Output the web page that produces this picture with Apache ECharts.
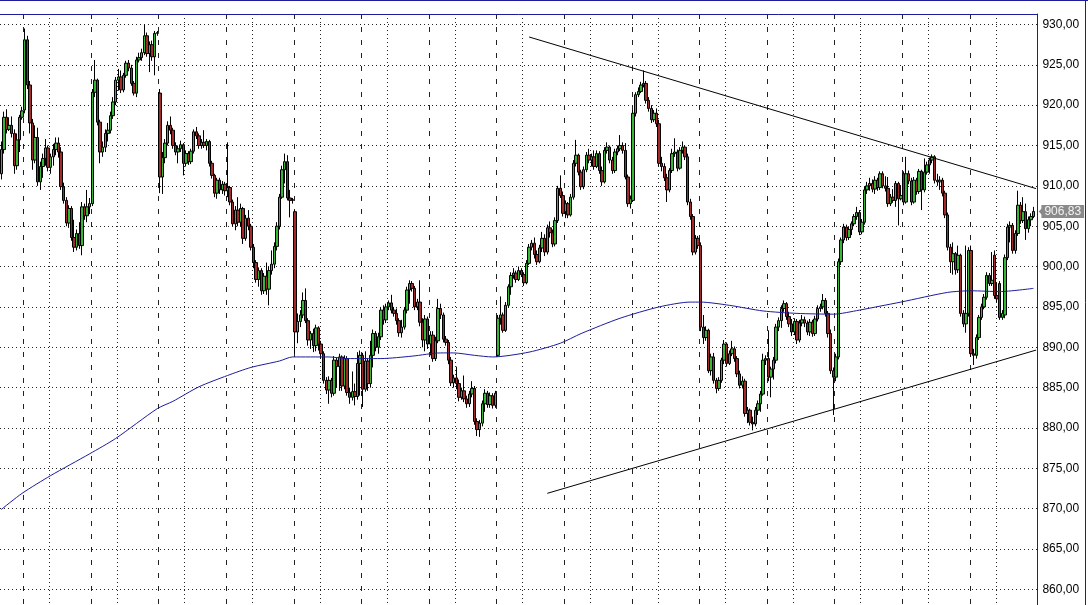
<!DOCTYPE html>
<html>
<head>
<meta charset="utf-8">
<script src="https://cdn.jsdelivr.net/npm/echarts@6/dist/echarts.min.js"></script>
<style>
html,body{margin:0;padding:0;background:#fff;}
#chart{width:1088px;height:605px;}
</style>
</head>
<body>
<div id="chart"></div>
<script>
// Each candle: [open, close, low, high]; 15-minute bars, 26 per session
const day00 = [
[911.5,914.5,910.8,915.5],[914.5,918.5,914.0,919.2],[918.5,917.0,916.5,919.5],[917.0,917.5,916.8,918.5],
[917.5,916.5,916.0,918.6],[916.5,912.5,911.5,917.0],[912.5,915.7,912.0,916.5],[915.7,918.5,914.2,918.8],
[918.5,919.3,918.2,919.8]];
const day01 = [
[919.4,928.1,919.0,929.5],[928.1,922.5,922.0,928.6],[922.5,917.8,916.5,923.0],[917.8,913.2,912.0,918.3],
[913.2,916.0,912.8,917.5],[916.0,910.5,910.0,917.2],[910.5,912.4,909.5,913.0],[912.4,913.4,911.0,914.0],
[913.4,914.7,912.5,915.8],[914.7,912.3,911.8,915.0],[912.3,913.6,911.5,914.0],[913.6,914.5,912.5,915.2],
[914.5,915.3,913.8,916.0],[915.3,914.2,913.5,916.0],[914.2,909.9,909.5,914.8],[909.9,908.2,907.8,910.4],
[908.2,905.4,905.0,908.6],[905.4,907.2,904.8,907.6],[907.2,903.6,903.2,907.5],[903.6,902.4,901.8,905.8],
[902.4,904.1,902.0,904.6],[904.1,902.6,902.2,905.5],[902.6,907.4,901.4,908.0],[907.4,906.3,905.8,907.8],
[906.3,907.4,905.5,909.5],[907.4,907.8,906.5,908.5]];
const day02 = [
[907.8,921.6,907.5,922.0],[921.6,923.1,921.0,925.6],[923.1,917.9,917.5,923.3],[917.9,914.2,912.8,918.2],
[914.2,914.8,913.6,915.5],[914.8,916.5,914.2,917.0],[916.5,916.9,915.5,917.8],[916.9,918.7,916.5,919.2],
[918.7,920.4,918.3,921.0],[920.4,923.1,920.0,923.5],[923.1,923.5,921.8,924.5],[923.5,921.9,921.5,924.3],
[921.9,923.7,921.6,924.0],[923.7,925.2,923.4,925.5],[925.2,924.6,924.2,925.6],[924.6,922.7,922.4,925.0],
[922.7,921.5,921.2,923.0],[921.5,925.6,921.0,926.0],[925.6,925.9,925.3,926.5],[925.9,926.5,925.5,927.0],
[926.5,928.6,926.2,930.0],[928.6,926.4,926.0,929.0],[926.4,927.5,924.1,927.9],[927.5,926.0,925.5,928.0],
[926.0,928.9,923.7,929.2],[928.9,929.0,928.6,929.2]];
const day03 = [
[921.5,911.1,909.1,922.0],[911.1,913.5,909.0,914.2],[913.5,915.3,912.8,915.8],[915.3,917.5,915.0,918.0],
[917.5,916.9,916.4,918.6],[916.9,915.0,914.6,917.2],[915.0,914.2,913.8,915.4],[914.2,914.6,912.8,915.0],
[914.6,915.1,914.2,915.6],[915.1,912.8,911.3,915.3],[912.8,914.0,912.4,914.4],[914.0,913.0,912.6,914.3],
[913.0,914.3,912.7,914.6],[914.3,916.7,914.0,917.0],[916.7,916.2,915.8,917.3],[916.2,915.0,914.6,916.5],
[915.0,915.4,914.6,915.8],[915.4,915.0,914.7,916.9],[915.0,915.5,914.4,915.8],[915.5,912.8,912.4,915.7],
[912.8,911.3,910.9,913.1],[911.3,909.1,908.6,911.5],[909.1,910.7,908.4,911.0],[910.7,909.5,909.0,911.0],
[909.5,910.2,909.0,910.6],[910.2,909.4,908.8,910.5]];
const day04 = [
[909.4,909.8,908.6,915.4],[909.8,908.0,907.6,910.0],[908.0,905.3,905.0,908.3],[905.3,907.0,904.5,907.5],
[907.0,905.5,905.0,908.6],[905.5,907.2,905.0,907.8],[907.2,903.5,902.8,907.4],[903.5,906.0,903.2,906.4],
[906.0,905.0,904.5,907.0],[905.0,902.4,902.0,905.3],[902.4,900.5,899.8,902.8],[900.5,898.4,898.0,900.8],
[898.4,899.5,897.5,899.9],[899.5,897.0,896.5,899.8],[897.0,898.8,896.6,899.2],[898.8,897.2,896.5,900.5],
[897.2,899.5,895.2,900.0],[899.5,900.3,899.0,902.0],[900.3,902.5,899.8,903.0],[902.5,905.0,902.0,905.5],
[905.0,908.6,904.6,909.0],[908.6,912.0,908.4,912.5],[912.0,913.0,910.3,914.0],[913.0,908.5,908.2,913.8],
[908.5,908.2,906.1,909.5],[908.2,908.3,907.8,908.5]];
const day05 = [
[906.8,891.9,889.2,907.0],[891.9,893.2,890.5,894.2],[893.2,894.0,892.5,894.6],[894.0,895.8,893.6,896.8],
[895.8,893.3,893.0,897.3],[893.3,890.9,890.2,893.6],[890.9,891.7,889.8,892.0],[891.7,890.2,889.4,892.3],
[890.2,892.4,889.5,892.8],[892.4,890.4,889.6,892.6],[890.4,889.2,888.6,890.8],[889.2,885.9,885.5,889.5],
[885.9,884.7,884.2,886.3],[884.7,885.9,883.0,886.4],[885.9,884.3,883.8,886.2],[884.3,888.4,884.0,888.9],
[888.4,887.6,885.0,888.7],[887.6,888.8,884.6,889.2],[888.8,885.2,884.6,889.0],[885.2,888.6,884.8,889.0],
[888.6,884.4,884.0,888.9],[884.4,883.8,883.0,885.0],[883.8,884.5,883.4,887.0],[884.5,883.9,882.8,885.5],
[883.9,888.0,883.5,889.4],[888.0,889.0,884.0,889.6]];
const day06 = [
[889.0,884.8,882.6,889.3],[884.8,888.3,884.5,889.5],[888.3,885.5,884.6,888.6],[885.5,889.0,885.0,890.8],
[889.0,891.7,887.5,892.2],[891.7,890.0,889.5,892.0],[890.0,891.3,889.2,891.8],[891.3,894.6,890.9,895.0],
[894.6,893.4,892.8,895.2],[893.4,895.0,893.0,895.4],[895.0,895.5,894.6,895.8],[895.5,894.6,894.2,896.5],
[894.6,894.2,893.8,895.0],[894.2,893.3,892.8,894.8],[893.3,891.8,891.3,893.6],[891.8,892.5,891.2,893.4],
[892.5,894.6,892.2,895.0],[894.6,897.1,894.2,897.5],[897.1,897.9,895.4,898.3],[897.9,897.3,896.9,898.2],
[897.3,895.0,894.6,897.6],[895.0,895.6,894.6,896.0],[895.6,893.1,892.6,898.3],[893.1,890.9,890.0,893.6],
[890.9,893.5,889.5,894.0],[893.5,890.4,889.8,893.8]];
const day07 = [
[890.4,891.5,889.0,892.0],[891.5,888.6,888.2,892.0],[888.6,890.8,888.3,891.3],[890.8,894.8,890.5,896.0],
[894.8,894.0,893.5,895.4],[894.0,891.0,890.6,894.3],[891.0,890.6,890.2,891.4],[890.6,888.4,887.9,890.9],
[888.4,885.6,885.2,888.8],[885.6,886.2,885.0,886.6],[886.2,885.5,884.8,887.6],[885.5,883.8,883.3,886.0],
[883.8,884.6,883.5,885.0],[884.6,883.6,883.2,886.5],[883.6,883.0,882.5,884.0],[883.0,884.2,882.6,884.6],
[884.2,884.9,883.8,885.8],[884.9,880.8,880.4,885.2],[880.8,879.8,879.0,881.2],[879.8,880.6,878.9,881.0],
[880.6,883.0,880.2,883.4],[883.0,884.3,882.0,884.8],[884.3,882.9,882.5,884.6],[882.9,884.0,882.5,884.4],
[884.0,882.8,882.4,884.3],[882.8,884.3,882.5,884.6]];
const day08 = [
[889.0,893.6,888.8,894.0],[893.6,894.0,892.8,896.3],[894.0,892.1,891.8,894.3],[892.1,895.2,891.9,895.6],
[895.2,897.5,894.9,897.8],[897.5,898.9,896.5,899.3],[898.9,899.2,898.5,899.8],[899.2,898.4,898.0,899.5],
[898.4,899.5,898.2,900.0],[899.5,899.0,898.7,899.8],[899.0,898.0,897.6,899.3],[898.0,900.4,897.8,900.8],
[900.4,902.4,900.2,902.8],[902.4,902.9,902.0,903.3],[902.9,901.5,901.0,903.6],[901.5,900.6,900.2,902.0],
[900.6,902.3,900.4,902.7],[902.3,903.5,901.8,904.3],[903.5,901.8,901.3,904.0],[901.8,904.8,901.5,905.2],
[904.8,904.2,903.6,905.6],[904.2,902.8,902.4,904.6],[902.8,905.7,902.5,906.1],[905.7,909.7,905.4,910.0],
[909.7,908.8,908.5,911.3],[908.8,906.6,906.2,909.3]];
const day09 = [
[906.8,907.8,906.0,908.2],[907.8,906.4,906.0,908.0],[906.4,908.6,906.2,909.0],[908.6,912.8,908.3,913.2],
[912.8,913.8,912.4,915.7],[913.8,911.7,911.3,914.0],[911.7,909.9,909.5,912.0],[909.9,912.0,909.6,912.4],
[912.0,913.8,911.7,914.2],[913.8,913.2,912.8,914.6],[913.2,913.6,912.4,914.0],[913.6,912.4,912.0,914.4],
[912.4,914.0,912.2,914.4],[914.0,911.9,911.5,914.3],[911.9,910.5,910.0,912.4],[910.5,914.4,910.3,914.8],
[914.4,914.8,914.0,915.4],[914.8,913.2,912.8,915.0],[913.2,911.9,911.5,913.6],[911.9,914.2,911.6,914.6],
[914.2,914.6,913.8,915.0],[914.6,915.0,914.3,916.3],[915.0,914.4,914.0,915.4],[914.4,911.1,910.8,915.3],
[911.1,907.8,907.4,911.4],[907.8,908.4,907.2,908.8]];
const day10 = [
[908.2,919.0,908.0,919.4],[919.0,921.3,918.6,921.6],[921.3,921.7,921.0,922.2],[921.7,922.5,921.5,922.9],
[922.5,922.7,922.2,924.3],[922.7,920.6,920.2,923.0],[920.6,919.6,919.2,921.0],[919.6,918.2,917.8,920.0],
[918.2,919.0,917.9,919.4],[919.0,917.7,917.3,919.6],[917.7,912.8,912.4,918.2],[912.8,912.4,911.8,913.6],
[912.4,911.0,910.6,912.8],[911.0,909.5,908.0,911.5],[909.5,911.9,909.2,912.2],[911.9,914.0,911.6,914.6],
[914.0,914.2,913.6,915.9],[914.2,912.2,911.8,914.5],[912.2,914.4,912.0,914.8],[914.4,914.8,914.0,915.5],
[914.8,913.6,913.2,915.0],[913.6,908.0,907.6,914.0],[908.0,906.2,905.8,908.4],[906.2,901.8,901.4,906.5],
[901.8,903.5,901.5,903.9],[903.5,902.6,902.2,903.8]];
const day11 = [
[902.6,892.5,892.0,903.0],[892.5,891.2,890.4,894.0],[891.2,892.1,890.8,892.6],[892.1,887.1,886.8,892.3],
[887.1,888.8,886.5,889.2],[888.8,885.9,885.5,889.3],[885.9,884.9,884.3,886.2],[884.9,885.9,884.6,886.3],
[885.9,888.4,885.6,888.7],[888.4,890.4,887.9,890.9],[890.4,888.0,887.6,890.6],[888.0,889.2,887.8,889.6],
[889.2,889.8,888.9,890.8],[889.8,888.6,888.2,890.1],[888.6,886.7,886.3,888.9],[886.7,885.3,884.9,887.1],
[885.3,885.8,884.9,886.4],[885.8,881.8,881.4,886.1],[881.8,882.2,880.6,882.6],[882.2,880.7,880.3,882.4],
[880.7,880.5,879.7,881.4],[880.5,882.2,880.2,882.6],[882.2,883.0,881.6,883.4],[883.0,884.2,882.0,884.6],
[884.2,888.4,884.0,889.2],[888.4,888.6,887.8,889.0]];
const day12 = [
[888.6,886.3,885.8,892.1],[886.3,887.3,883.8,887.6],[887.3,888.4,886.0,888.8],[888.4,892.5,888.0,892.9],
[892.5,893.3,892.0,893.7],[893.3,894.8,892.4,895.2],[894.8,895.4,894.4,895.8],[895.4,893.8,893.4,895.6],
[893.8,892.9,892.5,894.4],[892.9,891.9,891.4,893.5],[891.9,893.2,891.5,893.6],[893.2,890.9,890.4,893.5],
[890.9,893.0,890.6,893.4],[893.0,893.4,892.6,894.0],[893.4,893.0,892.5,893.8],[893.0,891.9,891.5,893.3],
[891.9,893.1,891.4,893.5],[893.1,891.7,891.3,893.4],[891.7,893.5,891.4,893.9],[893.5,894.8,893.2,895.2],
[894.8,895.0,894.4,895.4],[895.0,895.8,894.7,896.6],[895.8,894.2,893.8,896.1],[894.2,891.7,891.2,894.5],
[891.7,887.1,886.7,892.2],[887.1,886.3,881.6,887.5]];
const day13 = [
[886.3,888.8,885.8,889.2],[888.8,900.6,888.5,901.0],[900.6,903.3,900.2,903.6],[903.3,904.9,902.9,905.3],
[904.9,903.6,903.2,905.2],[903.6,904.6,903.3,904.9],[904.6,905.3,903.9,905.6],[905.3,906.2,905.0,906.5],
[906.2,906.7,905.8,907.4],[906.7,904.3,903.9,907.0],[904.3,905.5,904.0,905.9],[905.5,909.5,905.2,909.9],
[909.5,910.0,909.0,910.5],[910.0,910.3,909.4,911.0],[910.3,909.6,909.2,910.8],[909.6,910.7,909.0,911.2],
[910.7,909.8,909.4,911.0],[909.8,911.5,909.5,911.8],[911.5,910.0,909.7,911.8],[910.0,909.7,909.3,911.2],
[909.7,907.8,907.4,911.1],[907.8,908.6,907.5,909.0],[908.6,908.2,907.9,909.6],[908.2,910.3,907.4,910.6],
[910.3,908.4,905.1,910.5],[908.4,908.8,908.2,910.1]];
const day14 = [
[911.5,908.0,907.6,911.8],[908.0,911.5,907.8,913.6],[911.5,910.6,910.2,911.9],[910.6,908.0,907.6,911.0],
[908.0,910.7,907.8,911.1],[910.7,909.3,908.9,911.0],[909.3,911.8,909.0,912.1],[911.8,909.5,907.0,912.0],
[909.5,911.7,909.2,913.4],[911.7,912.6,911.4,913.0],[912.6,913.2,911.5,913.5],[913.2,913.6,912.8,913.9],
[913.6,910.7,910.3,913.8],[910.7,910.5,910.0,911.5],[910.5,910.7,909.5,911.2],[910.7,909.1,908.7,911.0],
[909.1,906.4,906.0,909.4],[906.4,902.4,902.0,906.7],[902.4,900.6,899.2,902.8],[900.6,901.6,899.0,903.0],
[901.6,899.6,899.0,901.8],[899.6,901.4,899.2,902.6],[901.4,894.2,893.8,901.6],[894.2,892.9,892.5,894.6],
[892.9,894.2,891.8,902.6],[894.2,902.0,893.8,902.4]];
const day15 = [
[902.0,889.2,888.8,902.6],[889.2,889.0,887.8,889.8],[889.0,891.2,888.6,891.6],[891.2,893.7,890.9,894.0],
[893.7,895.0,893.4,895.4],[895.0,896.2,894.7,896.6],[896.2,898.9,895.9,899.3],[898.9,897.9,897.6,899.2],
[897.9,898.3,897.6,901.8],[901.4,896.4,896.0,902.0],[896.4,896.0,895.6,898.0],[897.9,893.7,893.4,898.2],
[893.7,894.2,893.4,894.6],[894.0,901.1,893.6,901.5],[901.1,904.9,900.8,905.3],[904.9,905.1,903.0,905.6],
[905.1,902.0,901.6,905.4],[902.0,904.1,901.6,904.5],[904.1,907.6,903.8,909.4],[907.6,905.7,905.3,908.0],
[905.7,906.8,905.4,908.6],[906.8,904.7,903.3,907.8],[904.7,905.8,904.2,906.2],[905.8,906.2,905.0,906.6],
[906.2,906.83,906.0,907.4]];

const lastPrice = 906.83;

// blue moving average, read at points: [bar index, value]
const movingAverage = [
[0,869.9],[8,871.9],[19,874.1],[34,876.8],[44,878.7],[60,882.4],[66,883.3],[76,885.1],[87,886.5],
[96,887.5],[107,888.3],[112,888.8],[126,888.8],[133,888.6],[146,888.6],[158,888.9],[169,889.3],
[174,889.3],[182,889.0],[189,888.8],[203,889.4],[215,890.5],[223,891.7],[238,893.6],[253,895.0],
[265,895.6],[269,895.6],[280,895.2],[293,894.5],[306,894.2],[320,894.1],[330,894.6],[338,895.1],
[346,895.6],[364,896.8],[373,897.0],[384,896.9],[397,897.3]];

// trend lines: [[startIndex, startValue], [endIndex, endValue]]
const upperTrend = [[203, 928.45], [398, 909.66]];
const lowerTrend = [[210, 871.9], [398, 889.65]];

// y axis ticks
const yMin = 855, yMax = 931.3, yStep = 5;

const candles = [].concat(day00, day01, day02, day03, day04, day05, day06, day07,
  day08, day09, day10, day11, day12, day13, day14, day15);
const slotCount = candles.length + 1;
const categories = [];
for (let i = 0; i < slotCount; i++) categories.push('b' + i);
const barsPerSession = 26, firstSessionStart = 9, midSessionOffset = 10;

const navy = '#1c1c9c';
const tagGray = '#8a8a8a';
const chart = echarts.init(document.getElementById('chart'), null, {renderer: 'canvas'});
chart.setOption({
  animation: false,
  backgroundColor: '#ffffff',
  grid: {left: 0, width: 1037.4, top: 14, height: 615.7, containLabel: false, outerBoundsMode: 'none'},
  xAxis: [{
    type: 'category', data: categories, position: 'top', boundaryGap: true,
    axisLine: {show: true, lineStyle: {color: navy, width: 1}},
    axisTick: {show: false}, axisLabel: {show: false},
    splitLine: {show: true,
      interval: (i) => i >= firstSessionStart && (i - firstSessionStart) % barsPerSession === 0,
      lineStyle: {color: '#222', width: 1, type: [5, 8]}}
  }, {
    type: 'category', data: categories, position: 'bottom', boundaryGap: true,
    axisLine: {show: false}, axisTick: {show: false}, axisLabel: {show: false},
    splitLine: {show: true,
      interval: (i) => i >= firstSessionStart + midSessionOffset && (i - firstSessionStart - midSessionOffset) % barsPerSession === 0,
      lineStyle: {color: '#222', width: 1, type: [1, 3]}}
  }],
  yAxis: {
    type: 'value', position: 'right', min: yMin, max: yMax, interval: yStep,
    axisLine: {show: true, lineStyle: {color: navy, width: 1}},
    axisTick: {show: false},
    axisLabel: {show: true, showMaxLabel: false, showMinLabel: false, margin: 5,
      color: '#000', fontSize: 12, fontFamily: 'Liberation Sans, Arial, sans-serif',
      formatter: (v) => v.toFixed(2).replace('.', ',')},
    splitLine: {show: true, lineStyle: {color: '#222', width: 1, type: [1, 3]}}
  },
  series: [{
    type: 'candlestick', xAxisIndex: 0, data: candles, barWidth: 3,
    itemStyle: {color: '#35b935', color0: '#a42a2a', borderColor: '#000', borderColor0: '#000',
      borderColorDoji: '#000', borderWidth: 1},
    markLine: {
      silent: true, symbol: ['none', 'none'], animation: false,
      lineStyle: {color: 'rgba(0,0,0,0)', width: 1, type: 'solid'},
      label: {show: true, position: 'end', distance: 4,
        formatter: () => lastPrice.toFixed(2).replace('.', ','),
        backgroundColor: tagGray, color: '#f4f4f4', padding: [1, 3, 0, 3],
        fontSize: 12, fontFamily: 'Liberation Sans, Arial, sans-serif'},
      data: [{yAxis: lastPrice}]
    },
    markPoint: {
      silent: true, animation: false,
      symbol: 'path://M0,5 L6,0 L6,10 Z', symbolSize: [5, 10], symbolOffset: [5, 0],
      itemStyle: {color: tagGray}, label: {show: false},
      data: [{coord: [slotCount - 1, lastPrice]}]
    }
  }, {
    type: 'line', xAxisIndex: 0, data: movingAverage, showSymbol: false, symbol: 'none',
    smooth: 0.25, lineStyle: {color: navy, width: 1}, z: 3,
    markLine: {
      silent: true, symbol: ['none', 'none'], animation: false,
      label: {show: false},
      lineStyle: {color: '#000', width: 1, type: 'solid'},
      data: [
        [{coord: upperTrend[0]}, {coord: upperTrend[1]}],
        [{coord: lowerTrend[0]}, {coord: lowerTrend[1]}]
      ]
    }
  }],
  graphic: [
    {type: 'line', shape: {x1: 0, y1: 0.5, x2: 1088, y2: 0.5}, style: {stroke: navy, lineWidth: 1}, silent: true},
    {type: 'line', shape: {x1: 1085.5, y1: 0, x2: 1085.5, y2: 605}, style: {stroke: navy, lineWidth: 1}, silent: true}
  ]
});
</script>
</body>
</html>
